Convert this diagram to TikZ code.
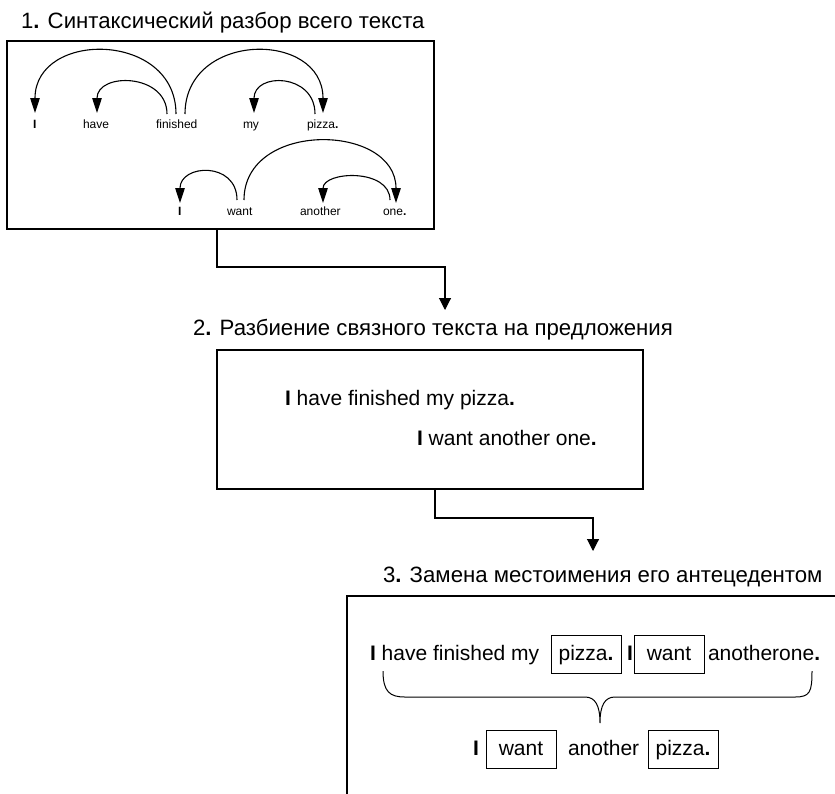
\documentclass[tikz,border=0pt]{standalone}
\usepackage{fontspec}
\setmainfont{Liberation Sans}
\usetikzlibrary{arrows.meta,calc}
\begin{document}
\begin{tikzpicture}[x=1pt,y=-1pt,
  big/.style={font=\fontsize{21}{25}\selectfont, inner sep=0pt, outer sep=0pt, anchor=base west},
  title/.style={font=\fontsize{22.2}{26}\selectfont, inner sep=0pt, outer sep=0pt, anchor=base west},
  small/.style={font=\fontsize{12}{14}\selectfont, inner sep=0pt, outer sep=0pt, anchor=base west},
  frame/.style={draw, line width=1.2pt, inner sep=0pt, outer sep=0pt},
  dep/.style={line width=1.1pt, -{Triangle[length=15pt,width=9.5pt]}},
  flow/.style={line width=1.1pt, -{Triangle[length=12pt,width=12pt]}},
  wbox/.style={draw, line width=1pt, font=\fontsize{21}{25}\selectfont, inner xsep=0pt,
     minimum width=70pt, text height=16pt, text depth=5pt, inner ysep=8.5pt,
     anchor=base west, outer sep=0pt},
  brace/.style={line width=1pt}
]
\useasboundingbox (0,0) rectangle (835,793);
\clip (0,0) rectangle (835,793);

% ---------- step 1 ----------
\node[title] (t1) at (21,28) {1\textbf{.} Синтаксический разбор всего текста};
\node[frame, minimum width=427pt, minimum height=188pt] (b1) at (220.5,135) {};

\node[small] (w1I) at (33,128) {\textbf{I}};
\node[small] (w1have) at (83,128) {have};
\node[small] (w1fin) at (156,128) {finished};
\node[small] (w1my) at (243,128) {my};
\node[small] (w1pizza) at (307,128) {pizza\textbf{.}};

\node[small] (w2I) at (178,215) {\textbf{I}};
\node[small] (w2want) at (227,215) {want};
\node[small] (w2another) at (300,215) {another};
\node[small] (w2one) at (383,215) {one\textbf{.}};

\draw[dep] ([shift={(20,-14)}]w1fin.base west) .. controls +(0,-83) and +(0,-83) .. ([shift={(2,-15)}]w1I.base west);
\draw[dep] ([shift={(11,-14)}]w1fin.base west) .. controls +(0,-41) and +(0,-41) .. ([shift={(14,-15)}]w1have.base west);
\draw[dep] ([shift={(29,-14)}]w1fin.base west) .. controls +(0,-83) and +(0,-83) .. ([shift={(16,-15)}]w1pizza.base west);
\draw[dep] ([shift={(8,-14)}]w1pizza.base west) .. controls +(0,-41) and +(0,-41) .. ([shift={(11,-15)}]w1my.base west);

\draw[dep] ([shift={(10,-15)}]w2want.base west) .. controls +(0,-39) and +(0,-39) .. ([shift={(2,-12)}]w2I.base west);
\draw[dep] ([shift={(17,-15)}]w2want.base west) .. controls +(0,-80) and +(0,-80) .. ([shift={(13,-12)}]w2one.base west);
\draw[dep] ([shift={(7,-15)}]w2one.base west) .. controls +(0,-32) and +(0,-32) .. ([shift={(23,-12)}]w2another.base west);

% ---------- connector 1 ----------
\coordinate (a1e) at (445,310);
\draw[flow] ([xshift=-3.5pt]b1.south) -- ++(0,38) -| (a1e);

% ---------- step 2 ----------
\node[title] (t2) at (193,335) {2\textbf{.} Разбиение связного текста на предложения};
\node[frame, minimum width=426pt, minimum height=139pt] (b2) at (430,419.5) {};
\node[big] (s1) at (285,405) {\textbf{I} have finished my pizza\textbf{.}};
\node[big] (s2) at (417,445) {\textbf{I} want another one\textbf{.}};

% ---------- connector 2 ----------
\coordinate (a2e) at (593,551);
\draw[flow] ([xshift=5pt]b2.south) -- ++(0,29) -| (a2e);

% ---------- step 3 ----------
\node[title] (t3) at (383,582) {3\textbf{.} Замена местоимения его антецедентом};
\node[frame, minimum width=600pt, minimum height=300pt] (b3) at (647,746) {};

\node[big] (c1) at (370,660) {\textbf{I} have finished my};
\node[wbox] (c2) at (551,660) {pizza\textbf{.}};
\node[big] (c3) at (627,660) {\textbf{I}};
\node[wbox] (c4) at (634,660) {want};
\node[big] (c5) at (708,660) {anotherone\textbf{.}};

\draw[brace] (383,671) .. controls (383,692) and (390,697) .. (405,697) -- (585,697)
  .. controls (595,697) and (600,705) .. (600,723)
  .. controls (600,705) and (605,697) .. (615,697) -- (795,697)
  .. controls (810,697) and (812,692) .. (812,671);

\node[big] (d1) at (473,755) {\textbf{I}};
\node[wbox] (d2) at (486,755) {want};
\node[big] (d3) at (568,755) {another};
\node[wbox] (d4) at (648,755) {pizza\textbf{.}};
\end{tikzpicture}
\end{document}
